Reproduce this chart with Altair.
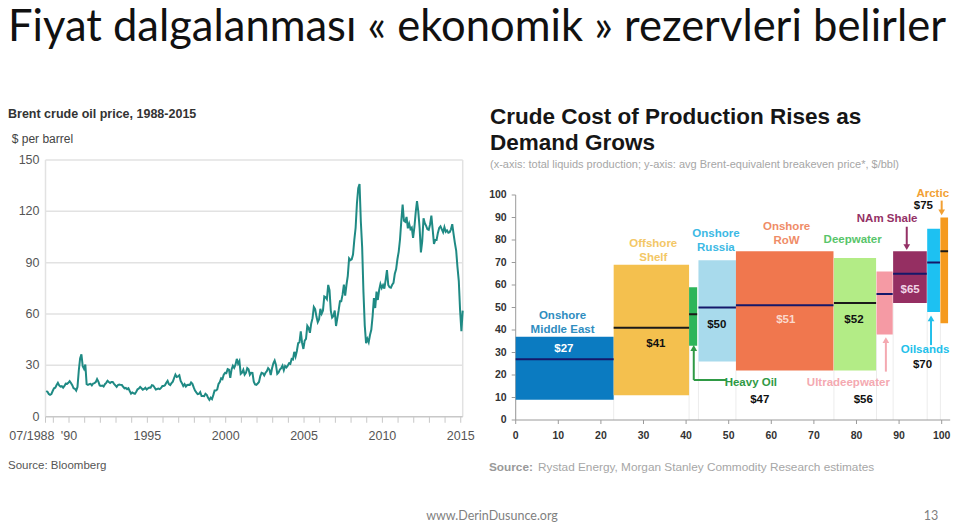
import altair as alt
import pandas as pd

# ---------------- Left panel: Brent crude, monthly, 07/1988 - 02/2015 ----------------
brent_first_year = 1988
brent_first_month = 7
brent_price = [
    # 1988 (Jul-Dec)
    15.0, 14.6, 13.3, 12.8, 13.2, 15.0,
    # 1989
    16.6, 16.9, 18.5, 19.8, 18.3, 17.6, 17.8, 17.0, 18.0, 19.3, 19.2, 19.8,
    # 1990
    20.8, 19.7, 18.4, 16.6, 16.3, 15.2, 17.4, 27.0, 34.0, 36.5, 29.5, 28.0,
    # 1991
    30.5, 19.0, 18.6, 19.0, 19.2, 18.3, 19.4, 19.6, 20.2, 22.0, 20.5, 18.3,
    # 1992
    18.0, 18.2, 17.6, 19.0, 19.8, 21.0, 20.3, 19.7, 20.3, 20.3, 19.2, 18.3,
    # 1993
    17.4, 18.5, 18.8, 18.6, 18.5, 17.5, 16.6, 16.8, 16.1, 16.6, 15.0, 13.5,
    # 1994
    14.2, 13.7, 13.4, 14.6, 16.0, 16.5, 17.4, 16.6, 15.8, 16.2, 16.9, 15.9,
    # 1995
    16.6, 17.0, 16.9, 18.4, 18.2, 17.1, 15.9, 16.2, 16.4, 16.1, 16.8, 17.9,
    # 1996
    17.9, 18.4, 19.8, 20.9, 19.0, 18.5, 19.6, 20.5, 22.6, 24.6, 23.2, 23.6,
    # 1997
    24.2, 20.9, 19.6, 17.9, 19.0, 17.6, 18.5, 18.6, 18.5, 20.0, 19.2, 17.1,
    # 1998
    15.3, 14.2, 13.2, 13.4, 14.4, 12.1, 12.1, 12.0, 13.4, 12.8, 11.0, 9.8,
    # 1999
    11.1, 10.3, 12.6, 15.3, 15.3, 15.9, 19.1, 20.3, 22.5, 22.0, 24.6, 25.6,
    # 2000
    25.5, 27.8, 27.5, 22.7, 27.6, 29.8, 28.6, 30.4, 33.8, 31.0, 32.5, 25.0,
    # 2001
    25.7, 27.4, 24.5, 25.6, 28.4, 27.7, 24.5, 25.7, 25.6, 20.5, 18.9, 18.6,
    # 2002
    19.4, 20.3, 23.7, 25.7, 25.4, 24.1, 25.7, 26.6, 28.4, 27.5, 24.3, 28.3,
    # 2003
    31.2, 32.8, 30.3, 25.0, 25.8, 27.6, 28.4, 29.8, 27.1, 29.6, 28.8, 29.8,
    # 2004
    31.2, 30.9, 33.8, 33.4, 37.9, 35.2, 38.4, 43.0, 43.4, 49.8, 43.1, 39.6,
    # 2005
    44.5, 45.5, 53.1, 51.9, 49.0, 54.5, 57.6, 64.1, 62.9, 58.5, 55.2, 56.9,
    # 2006
    63.0, 60.2, 62.1, 70.3, 69.8, 68.7, 77.0, 74.0, 61.8, 57.9, 58.8, 62.0,
    # 2007
    53.0, 57.6, 62.1, 67.5, 67.5, 71.3, 77.2, 70.8, 77.1, 82.3, 92.5, 91.5,
    # 2008
    92.0, 94.8, 103.3, 110.4, 124.6, 133.5, 136.0, 113.9, 99.1, 72.8, 53.2, 43.0,
    # 2009
    45.5, 43.5, 47.7, 50.8, 58.6, 69.3, 63.5, 73.1, 68.2, 73.9, 77.5, 75.2,
    # 2010
    76.9, 74.8, 79.9, 85.7, 77.0, 75.7, 75.4, 77.1, 78.2, 83.5, 86.1, 92.0,
    # 2011
    96.5, 103.7, 114.6, 124.0, 114.5, 113.9, 116.7, 110.1, 112.8, 109.6, 110.5, 104.5,
    # 2012
    110.7, 119.3, 126.0, 119.8, 110.3, 96.0, 102.6, 116.0, 113.0, 111.5, 109.5, 109.2,
    # 2013
    112.3, 117.5, 109.5, 101.0, 103.3, 103.3, 107.4, 110.3, 111.2, 109.5, 107.8, 110.8,
    # 2014
    108.1, 108.9, 107.5, 107.8, 109.5, 112.5, 106.8, 101.6, 97.1, 87.4, 79.4, 62.3,
    # 2015 (Jan-Feb)
    50.0, 62.0,
]
left_y_ticks = [0, 30, 60, 90, 120, 150]
left_x_ticks = [1988.5] + list(range(1989, 2016))
left_x_label_pos = [1990, 1995, 2000, 2005, 2010, 2015]
left_x_label_text = ["'90", "1995", "2000", "2005", "2010", "2015"]
left_x_first_label = "07/1988"

# ---------------- Right panel: cost of production by segment ----------------
seg_names = ["Onshore Middle East", "Offshore Shelf", "Heavy Oil", "Onshore Russia",
             "Onshore RoW", "Deepwater", "Ultradeepwater", "NAm Shale", "Oilsands", "Arctic"]
seg_x0 = [0.0, 23.0, 40.7, 42.9, 51.7, 74.7, 84.7, 88.6, 96.6, 99.7]
seg_x1 = [23.0, 40.7, 42.6, 51.7, 74.6, 84.6, 88.5, 96.5, 99.6, 101.5]
seg_low = [9, 11, 33, 26, 22, 22, 38, 52, 48, 43]
seg_high = [37, 69, 59, 71, 75, 72, 66, 75, 85, 90]
seg_breakeven = [27, 41, 47, 50, 51, 52, 56, 65, 70, 75]
seg_fill = ["#0b7bc1", "#f4c04e", "#2eb55a", "#a8daec", "#f0774e",
            "#b3ec86", "#f59aa4", "#952f62", "#1dc1f2", "#f59a1e"]
seg_median_color = ["#15186a", "#1a1a1a", "#1a1a1a", "#15186a", "#15186a",
                    "#1a1a1a", "#15186a", "#15186a", "#15186a", "#1a1a1a"]
right_ticks = list(range(0, 101, 10))

# ---------------- Layout constants (chart pixel space) ----------------
W, H = 943, 514
ARIAL = "Liberation Sans, Arial, sans-serif"

LX = alt.Scale(domain=[1988.5, 2015.125], range=[37.5, 454.7], nice=False, zero=False)
LY = alt.Scale(domain=[0, 150], range=[408.7, 152], nice=False, zero=False)
RX = alt.Scale(domain=[0, 102], range=[507.7, 942.2], nice=False, zero=False)
RY = alt.Scale(domain=[0, 100], range=[412, 187], nice=False, zero=False)


def lx(f):
    return alt.X(f, scale=LX, axis=None)


def ly(f):
    return alt.Y(f, scale=LY, axis=None)


def rx(f):
    return alt.X(f, scale=RX, axis=None)


def ry(f):
    return alt.Y(f, scale=RY, axis=None)


# ---------------- Left panel layers ----------------
months = []
yy, mm = brent_first_year, brent_first_month
for _ in brent_price:
    months.append(yy + (mm - 1) / 12 + 1 / 24)
    mm += 1
    if mm > 12:
        mm, yy = 1, yy + 1
brent_df = pd.DataFrame({"t": months, "p": brent_price})
L0, L1 = LX.domain[0], LX.domain[1]

grid_df = pd.DataFrame({"v": left_y_ticks[1:], "a": L0, "b": L1})
left_grid = alt.Chart(grid_df).mark_rule(color="#e2e2e2", strokeWidth=1.5).encode(
    x=lx("a:Q"), x2="b:Q", y=ly("v:Q"))

frame_df = pd.DataFrame({"x": [L0, L1], "lo": [0, 0], "hi": [150, 150]})
left_frame = alt.Chart(frame_df).mark_rule(color="#e2e2e2", strokeWidth=1.5).encode(
    x=lx("x:Q"), y=ly("lo:Q"), y2="hi:Q")

base_df = pd.DataFrame({"a": [L0], "b": [L1], "y": [0]})
left_xdomain = alt.Chart(base_df).mark_rule(color="#c8c8c8", strokeWidth=1.5).encode(
    x=lx("a:Q"), x2="b:Q", y=ly("y:Q"))

lxt_df = pd.DataFrame({"x": left_x_ticks, "y": 0})
left_xticks = alt.Chart(lxt_df).mark_tick(
    orient="vertical", size=6, thickness=1, yOffset=3, color="#c8c8c8", opacity=1).encode(
    x=lx("x:Q"), y=ly("y:Q"))

lxl_df = pd.DataFrame({"x": left_x_label_pos, "s": left_x_label_text, "y": 0})
left_xlabels = alt.Chart(lxl_df).mark_text(
    align="center", baseline="alphabetic", dy=23, font=ARIAL, fontSize=12.5,
    color="#555555").encode(x=lx("x:Q"), y=ly("y:Q"), text="s:N")
lxf_df = pd.DataFrame({"x": [L0], "s": [left_x_first_label], "y": [0]})
left_xfirst = alt.Chart(lxf_df).mark_text(
    align="right", baseline="alphabetic", dx=9, dy=23, font=ARIAL, fontSize=12.5,
    color="#555555").encode(x=lx("x:Q"), y=ly("y:Q"), text="s:N")

lyl_df = pd.DataFrame({"v": left_y_ticks, "x": L0})
left_ylabels = alt.Chart(lyl_df).mark_text(
    align="right", baseline="middle", dx=-6, font=ARIAL, fontSize=12.5,
    color="#555555").encode(x=lx("x:Q"), y=ly("v:Q"), text="v:Q")

left_line = alt.Chart(brent_df).mark_line(color="#1f8a84", strokeWidth=2).encode(
    x=lx("t:Q"), y=ly("p:Q"))

left = alt.layer(left_grid, left_frame, left_xdomain, left_xticks, left_xlabels,
                 left_xfirst, left_ylabels, left_line)

# ---------------- Right panel layers ----------------
seg_df = pd.DataFrame({"name": seg_names, "x0": seg_x0, "x1": seg_x1, "lo": seg_low,
                       "hi": seg_high, "be": seg_breakeven, "fill": seg_fill,
                       "mc": seg_median_color, "zero": 0})

vlines = alt.Chart(seg_df).mark_rule(color="#ececec", strokeWidth=1).encode(
    x=rx("x0:Q"), y=ry("zero:Q"), y2="lo:Q")

bars = alt.Chart(seg_df).mark_rect().encode(
    x=rx("x0:Q"), x2="x1:Q", y=ry("lo:Q"), y2="hi:Q",
    color=alt.Color("fill:N", scale=None))

medians = alt.Chart(seg_df).mark_rule(strokeWidth=2).encode(
    x=rx("x0:Q"), x2="x1:Q", y=ry("be:Q"), color=alt.Color("mc:N", scale=None))

# axes of the right panel
R0, R1 = RX.domain[0], RX.domain[1]
raxis_df = pd.DataFrame({"a": [R0], "b": [R1], "lo": [0], "hi": [100]})
r_xdomain = alt.Chart(raxis_df).mark_rule(color="#9a9a9a", strokeWidth=1).encode(
    x=rx("a:Q"), x2="b:Q", y=ry("lo:Q"))
r_ydomain = alt.Chart(raxis_df).mark_rule(color="#9a9a9a", strokeWidth=1).encode(
    x=rx("a:Q"), y=ry("lo:Q"), y2="hi:Q")
rt_df = pd.DataFrame({"v": right_ticks, "zero": 0})
r_xticks = alt.Chart(rt_df).mark_tick(
    orient="vertical", size=4, thickness=1, yOffset=2, color="#9a9a9a", opacity=1).encode(
    x=rx("v:Q"), y=ry("zero:Q"))
r_yticks = alt.Chart(rt_df).mark_tick(
    orient="horizontal", size=4, thickness=1, xOffset=-2, color="#9a9a9a", opacity=1).encode(
    x=rx("zero:Q"), y=ry("v:Q"))
r_xlabels = alt.Chart(rt_df).mark_text(
    align="center", baseline="alphabetic", dy=18.5, font=ARIAL, fontWeight="bold",
    fontSize=10.5, color="#333333").encode(x=rx("v:Q"), y=ry("zero:Q"), text="v:Q")
r_ylabels = alt.Chart(rt_df).mark_text(
    align="right", baseline="middle", dx=-9, font=ARIAL, fontWeight="bold",
    fontSize=10.5, color="#333333").encode(x=rx("zero:Q"), y=ry("v:Q"), text="v:Q")

# segment annotations (text, data-space anchor, colour)
ann_text = ["Onshore\nMiddle East", "$27", "Offshore\nShelf", "$41", "Onshore\nRussia", "$50",
            "Onshore\nRoW", "$51", "Deepwater", "$52", "Heavy Oil", "$47", "Ultradeepwater", "$56",
            "NAm Shale", "$65", "Arctic", "$75", "Oilsands", "$70"]
ann_color = ["#2f8dbf", "#ffffff", "#f3c766", "#111111", "#3cb9e4", "#111111",
             "#ef8c67", "#fbd9cc", "#58c56a", "#111111", "#2f9a45", "#111111", "#f4a9b1", "#111111",
             "#943166", "#f1d5e6", "#f2a033", "#111111", "#22bfea", "#111111"]
ann_x = [11.0, 11.3, 32.3, 32.9, 47.0, 47.2, 63.6, 63.4, 79.1, 79.4, 55.2, 57.3, 78.1, 81.6,
         87.2, 92.6, 97.9, 95.7, 96.1, 95.5]
ann_y = [44.9, 30.4, 77.0, 32.6, 81.2, 40.7, 84.4, 43.0, 78.5, 43.2, 15.1, 7.7, 15.1, 7.7,
         88.1, 56.3, 99.0, 93.6, 29.6, 23.0]
ann_df = pd.DataFrame({"s": ann_text, "x": ann_x, "y": ann_y, "c": ann_color})
labels = alt.Chart(ann_df).mark_text(
    font=ARIAL, fontWeight="bold", fontSize=11.5, align="center", baseline="alphabetic",
    lineBreak="\n", lineHeight=14).encode(
    x=rx("x:Q"), y=ry("y:Q"), text="s:N", color=alt.Color("c:N", scale=None))

# arrows: shaft (x, y_tail -> y_head) and head marker
arr_x = [41.8, 86.9, 91.8, 97.5, 100.0]
arr_tail = [17.8, 21.5, 85.9, 33.3, 97.5]
arr_head = [32.0, 35.5, 76.8, 45.2, 92.3]
arr_color = ["#2f9a45", "#f4a9b1", "#943166", "#22bfea", "#f2a033"]
arr_shape = ["triangle-up", "triangle-up", "triangle-down", "triangle-up", "triangle-down"]
arr_df = pd.DataFrame({"x": arr_x, "t": arr_tail, "h": arr_head, "c": arr_color, "sh": arr_shape})
shafts = alt.Chart(arr_df).mark_rule(strokeWidth=2).encode(
    x=rx("x:Q"), y=ry("t:Q"), y2="h:Q", color=alt.Color("c:N", scale=None))
heads = alt.Chart(arr_df).mark_point(filled=True, size=45, opacity=1).encode(
    x=rx("x:Q"), y=ry("h:Q"), color=alt.Color("c:N", scale=None),
    shape=alt.Shape("sh:N", scale=None))
elbow_df = pd.DataFrame({"a": [41.8], "b": [49.4], "y": [17.8]})
elbow = alt.Chart(elbow_df).mark_rule(strokeWidth=2, color="#2f9a45").encode(
    x=rx("a:Q"), x2="b:Q", y=ry("y:Q"))

right = alt.layer(vlines, r_xdomain, r_ydomain, r_xticks, r_yticks, r_xlabels, r_ylabels,
                  bars, medians, shafts, elbow, heads, labels)


# ---------------- free text ----------------
def txt(s, x, y, size, color, font=ARIAL, weight="normal", align="left"):
    return alt.Chart(pd.DataFrame({"s": [s]})).mark_text(
        align=align, baseline="alphabetic", font=font, fontSize=size, fontWeight=weight,
        color=color).encode(x=alt.value(x), y=alt.value(y), text="s:N")


texts = [
    txt("Fiyat dalgalanması « ekonomik » rezervleri belirler", 0, 33, 43.5, "#111111", font="Lato"),
    txt("Brent crude oil price, 1988-2015", 0, 110, 12.5, "#333333", weight="bold"),
    txt("$ per barrel", 3.7, 135, 12, "#444444"),
    txt("Source: Bloomberg", 0, 461, 11.5, "#555555"),
    txt("Crude Cost of Production Rises as", 482, 116.3, 22.5, "#161616", weight="bold"),
    txt("Demand Grows", 482, 142, 22.5, "#161616", weight="bold"),
    txt("(x-axis: total liquids production; y-axis: avg Brent-equivalent breakeven price*, $/bbl)",
        482, 159.7, 11, "#a6a6a6"),
    txt("Source:", 481, 463, 11.8, "#999999", weight="bold"),
    txt("Rystad Energy, Morgan Stanley Commodity Research estimates", 530, 463, 11.8, "#a6a6a6"),
    txt("www.DerinDusunce.org", 484, 512, 12.5, "#7f7f7f", font="Lato", align="center"),
    txt("13", 923, 512, 12.5, "#7f7f7f", font="Lato", align="center"),
]

chart = alt.layer(left, right, *texts).resolve_scale(
    x="independent", y="independent"
).properties(
    width=W, height=H, padding=0, autosize=alt.AutoSizeParams(type="none"),
    background="white"
).configure_view(stroke=None)

chart.save("out.html", embed_options={"renderer": "svg", "actions": False})
